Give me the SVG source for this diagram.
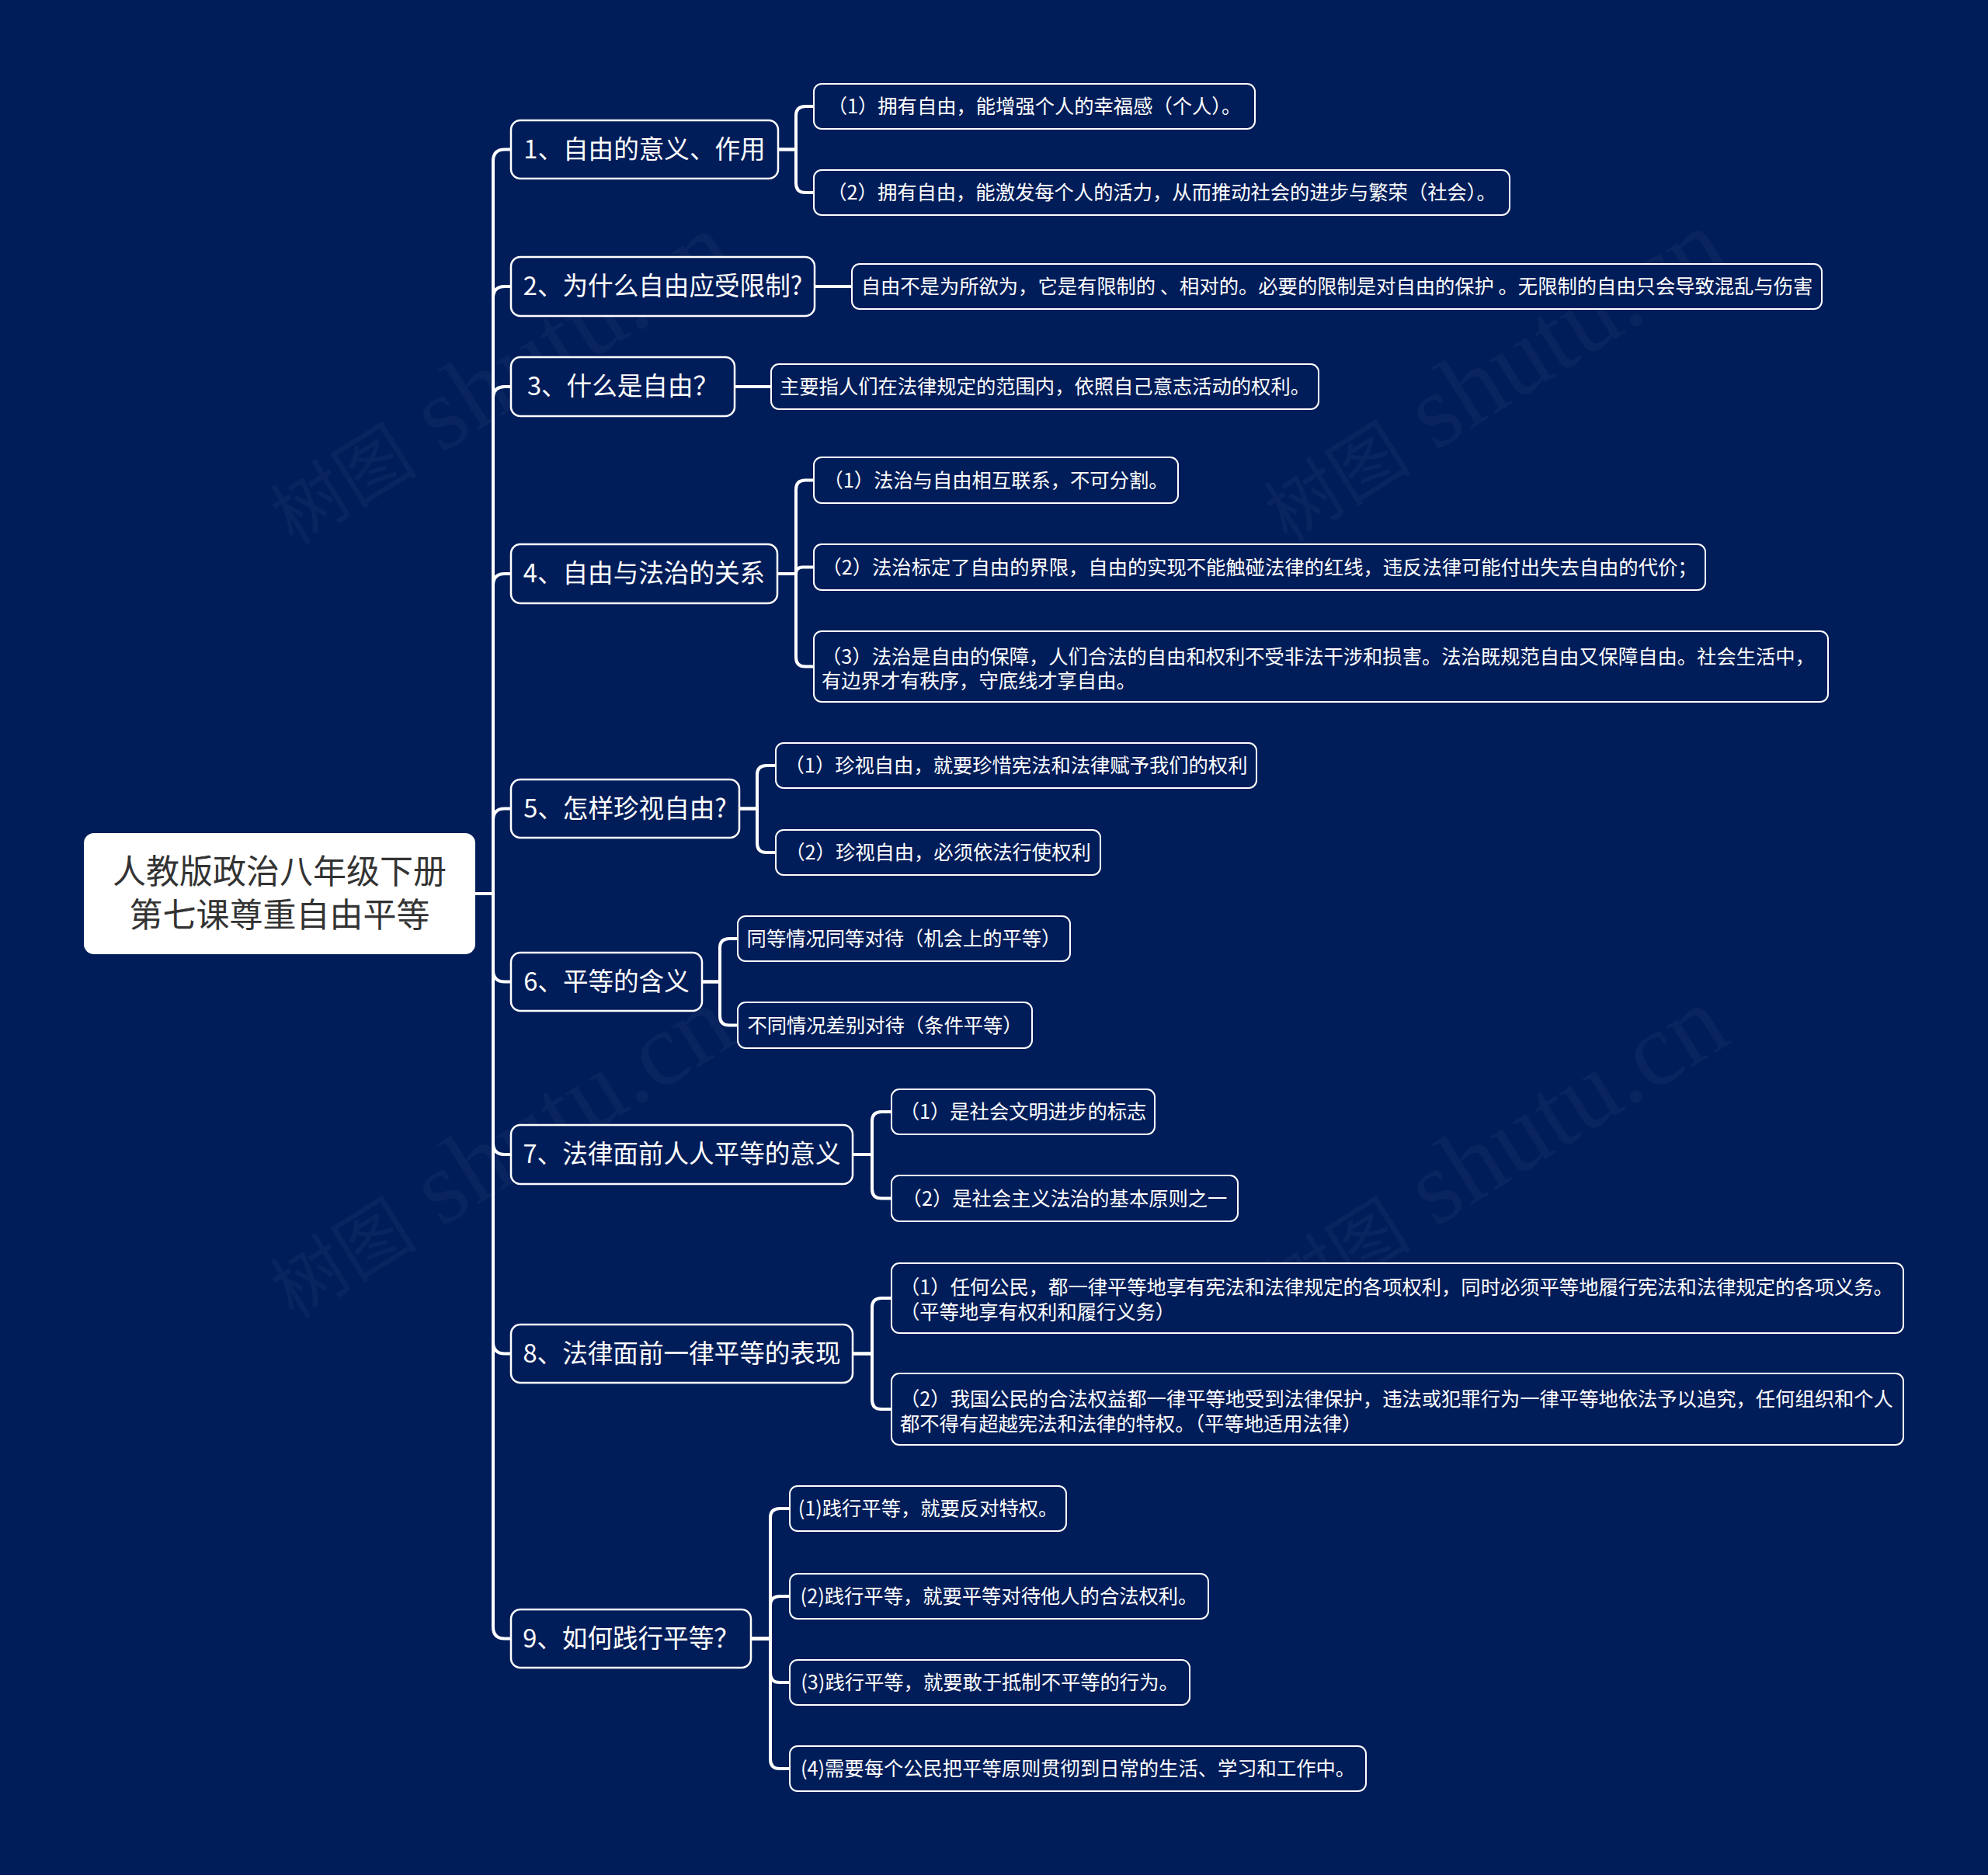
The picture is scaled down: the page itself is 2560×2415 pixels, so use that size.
<svg xmlns="http://www.w3.org/2000/svg" width="2560" height="2415" viewBox="0 0 2560 2415">
<style>
.t1{font-family:"Noto Sans CJK SC","Liberation Sans",sans-serif;font-size:32.6px;fill:#ffffff;text-anchor:middle}
.t2{font-family:"Noto Sans CJK SC","Liberation Sans",sans-serif;font-size:25.3px;fill:#ffffff;text-anchor:middle}
.t2l{font-family:"Noto Sans CJK SC","Liberation Sans",sans-serif;font-size:25.3px;fill:#ffffff;text-anchor:start}
.rt{font-family:"Noto Sans CJK SC","Liberation Sans",sans-serif;font-size:43px;fill:#333333;text-anchor:middle}
.b1{fill:#011d59;stroke:#ffffff;stroke-width:2.5}
.b2{fill:#011d59;stroke:#ffffff;stroke-width:2}
.conn path{fill:none;stroke:#ffffff;stroke-width:4}
.wm{font-family:"Liberation Serif","Noto Sans CJK SC",serif;fill:#ffffff;fill-opacity:0.035}
</style>
<rect x="0" y="0" width="2560" height="2415" fill="#011d59"/>
<g id="watermarks">
<text class="wm" transform="translate(378,703) rotate(-32)"><tspan font-size="95">树图</tspan><tspan font-size="135"> shutu.cn</tspan></text>
<text class="wm" transform="translate(1658,700) rotate(-32)"><tspan font-size="95">树图</tspan><tspan font-size="135"> shutu.cn</tspan></text>
<text class="wm" transform="translate(378,1700) rotate(-32)"><tspan font-size="95">树图</tspan><tspan font-size="135"> shutu.cn</tspan></text>
<text class="wm" transform="translate(1658,1700) rotate(-32)"><tspan font-size="95">树图</tspan><tspan font-size="135"> shutu.cn</tspan></text>
</g>
<g id="connectors" class="conn">
<path d="M612 1151 H635 V207.5 Q635 192.5 650 192.5 H658"/>
<path d="M612 1151 H635 V384 Q635 369 650 369 H658"/>
<path d="M612 1151 H635 V513 Q635 498 650 498 H658"/>
<path d="M612 1151 H635 V754 Q635 739 650 739 H658"/>
<path d="M612 1151 H635 V1056.5 Q635 1041.5 650 1041.5 H658"/>
<path d="M612 1151 H635 V1249.5 Q635 1264.5 650 1264.5 H658"/>
<path d="M612 1151 H635 V1472 Q635 1487 650 1487 H658"/>
<path d="M612 1151 H635 V1728.5 Q635 1743.5 650 1743.5 H658"/>
<path d="M612 1151 H635 V2095.5 Q635 2110.5 650 2110.5 H658"/>
<path d="M1002 192.5 H1025 V149 Q1025 137 1037 137 H1048"/>
<path d="M1002 192.5 H1025 V236 Q1025 248 1037 248 H1048"/>
<path d="M1049 369 H1097"/>
<path d="M946 498 H993"/>
<path d="M1001 739 H1025 V630.5 Q1025 618.5 1037 618.5 H1048"/>
<path d="M1001 739 H1025 Q1025 730.5 1033.5 730.5 H1048"/>
<path d="M1001 739 H1025 V846.5 Q1025 858.5 1037 858.5 H1048"/>
<path d="M952 1041.5 H975 V998 Q975 986 987 986 H999"/>
<path d="M952 1041.5 H975 V1086 Q975 1098 987 1098 H999"/>
<path d="M904 1264.5 H927 V1221 Q927 1209 939 1209 H950"/>
<path d="M904 1264.5 H927 V1308.5 Q927 1320.5 939 1320.5 H950"/>
<path d="M1098 1487 H1123 V1444 Q1123 1432 1135 1432 H1148"/>
<path d="M1098 1487 H1123 V1531.5 Q1123 1543.5 1135 1543.5 H1148"/>
<path d="M1098 1743.5 H1123 V1684 Q1123 1672 1135 1672 H1148"/>
<path d="M1098 1743.5 H1123 V1803 Q1123 1815 1135 1815 H1148"/>
<path d="M967 2110.5 H992 V1955 Q992 1943 1004 1943 H1017"/>
<path d="M967 2110.5 H992 V2068 Q992 2056 1004 2056 H1017"/>
<path d="M967 2110.5 H992 V2155 Q992 2167 1004 2167 H1017"/>
<path d="M967 2110.5 H992 V2266 Q992 2278 1004 2278 H1017"/>
</g>
<g id="root">
<rect x="108" y="1073" width="504" height="156" rx="13" fill="#ffffff"/>
<text class="rt" x="360" y="1138">人教版政治八年级下册</text>
<text class="rt" x="360" y="1194">第七课尊重自由平等</text>
</g>
<g id="n1"><rect class="b1" x="658" y="155" width="344" height="75" rx="12"/><text class="t1" x="830" y="203.5">1、自由的意义、作用</text></g>
<g id="n2"><rect class="b1" x="658" y="331" width="391" height="76" rx="12"/><text class="t1" x="853.5" y="380">2、为什么自由应受限制?</text></g>
<g id="n3"><rect class="b1" x="658" y="460" width="288" height="76" rx="12"/><text class="t1" x="802" y="509">3、什么是自由？</text></g>
<g id="n4"><rect class="b1" x="658" y="701" width="343" height="76" rx="12"/><text class="t1" x="829.5" y="750">4、自由与法治的关系</text></g>
<g id="n5"><rect class="b1" x="658" y="1004" width="294" height="75" rx="12"/><text class="t1" x="805" y="1052.5">5、怎样珍视自由?</text></g>
<g id="n6"><rect class="b1" x="658" y="1227" width="246" height="75" rx="12"/><text class="t1" x="781" y="1275.5">6、平等的含义</text></g>
<g id="n7"><rect class="b1" x="658" y="1449" width="440" height="76" rx="12"/><text class="t1" x="878" y="1498">7、法律面前人人平等的意义</text></g>
<g id="n8"><rect class="b1" x="658" y="1706" width="440" height="75" rx="12"/><text class="t1" x="878" y="1754.5">8、法律面前一律平等的表现</text></g>
<g id="n9"><rect class="b1" x="658" y="2073" width="309" height="75" rx="12"/><text class="t1" x="812.5" y="2121.5">9、如何践行平等？</text></g>
<g id="c1a"><rect class="b2" x="1048" y="108" width="568" height="58" rx="10"/><text class="t2" x="1332" y="146">（1）拥有自由，能增强个人的幸福感（个人）。</text></g>
<g id="c1b"><rect class="b2" x="1048" y="219" width="896" height="58" rx="10"/><text class="t2" x="1496" y="257">（2）拥有自由，能激发每个人的活力，从而推动社会的进步与繁荣（社会）。</text></g>
<g id="c2"><rect class="b2" x="1097" y="340" width="1249" height="58" rx="10"/><text class="t2" x="1721.5" y="378">自由不是为所欲为，它是有限制的 、相对的。必要的限制是对自由的保护 。无限制的自由只会导致混乱与伤害</text></g>
<g id="c3"><rect class="b2" x="993" y="469" width="705" height="58" rx="10"/><text class="t2" x="1345.5" y="507">主要指人们在法律规定的范围内，依照自己意志活动的权利。</text></g>
<g id="c4a"><rect class="b2" x="1048" y="589" width="469" height="59" rx="10"/><text class="t2" x="1282.5" y="627.5">（1）法治与自由相互联系，不可分割。</text></g>
<g id="c4b"><rect class="b2" x="1048" y="701" width="1148" height="59" rx="10"/><text class="t2" x="1622" y="739.5">（2）法治标定了自由的界限，自由的实现不能触碰法律的红线，违反法律可能付出失去自由的代价；</text></g>
<g id="c4c"><rect class="b2" x="1048" y="813" width="1306" height="91" rx="10"/><text class="t2l" x="1058" y="854.5">（3）法治是自由的保障，人们合法的自由和权利不受非法干涉和损害。法治既规范自由又保障自由。社会生活中，</text><text class="t2l" x="1058" y="886">有边界才有秩序，守底线才享自由。</text></g>
<g id="c5a"><rect class="b2" x="999" y="957" width="619" height="58" rx="10"/><text class="t2" x="1308.5" y="995">（1）珍视自由，就要珍惜宪法和法律赋予我们的权利</text></g>
<g id="c5b"><rect class="b2" x="999" y="1069" width="418" height="58" rx="10"/><text class="t2" x="1208" y="1107">（2）珍视自由，必须依法行使权利</text></g>
<g id="c6a"><rect class="b2" x="950" y="1180" width="428" height="58" rx="10"/><text class="t2" x="1164" y="1218">同等情况同等对待（机会上的平等）</text></g>
<g id="c6b"><rect class="b2" x="950" y="1291" width="379" height="59" rx="10"/><text class="t2" x="1139.5" y="1329.5">不同情况差别对待（条件平等）</text></g>
<g id="c7a"><rect class="b2" x="1148" y="1403" width="339" height="58" rx="10"/><text class="t2" x="1317.5" y="1441">（1）是社会文明进步的标志</text></g>
<g id="c7b"><rect class="b2" x="1148" y="1514" width="446" height="59" rx="10"/><text class="t2" x="1371" y="1552.5">（2）是社会主义法治的基本原则之一</text></g>
<g id="c8a"><rect class="b2" x="1148" y="1627" width="1303" height="90" rx="10"/><text class="t2l" x="1159" y="1667">（1）任何公民，都一律平等地享有宪法和法律规定的各项权利，同时必须平等地履行宪法和法律规定的各项义务。</text><text class="t2l" x="1159" y="1698.5">（平等地享有权利和履行义务）</text></g>
<g id="c8b"><rect class="b2" x="1148" y="1769" width="1303" height="92" rx="10"/><text class="t2l" x="1159" y="1811">（2）我国公民的合法权益都一律平等地受到法律保护，违法或犯罪行为一律平等地依法予以追究，任何组织和个人</text><text class="t2l" x="1159" y="1842.5">都不得有超越宪法和法律的特权。（平等地适用法律）</text></g>
<g id="c9a"><rect class="b2" x="1017" y="1914" width="356" height="58" rx="10"/><text class="t2" x="1195" y="1952">(1)践行平等，就要反对特权。</text></g>
<g id="c9b"><rect class="b2" x="1017" y="2027" width="539" height="58" rx="10"/><text class="t2" x="1286.5" y="2065">(2)践行平等，就要平等对待他人的合法权利。</text></g>
<g id="c9c"><rect class="b2" x="1017" y="2138" width="515" height="58" rx="10"/><text class="t2" x="1274.5" y="2176">(3)践行平等，就要敢于抵制不平等的行为。</text></g>
<g id="c9d"><rect class="b2" x="1017" y="2249" width="742" height="58" rx="10"/><text class="t2" x="1388" y="2287">(4)需要每个公民把平等原则贯彻到日常的生活、学习和工作中。</text></g>
</svg>
